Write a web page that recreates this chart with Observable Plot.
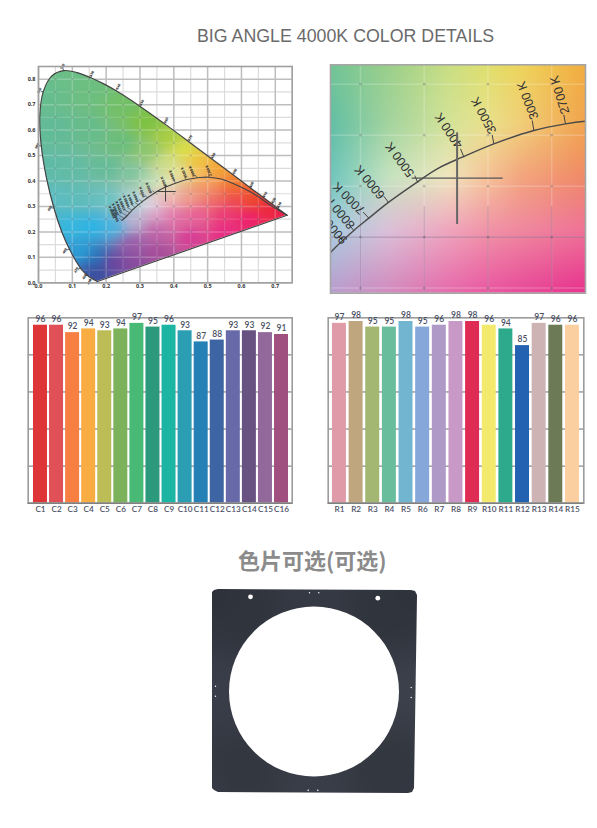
<!DOCTYPE html>
<html>
<head>
<meta charset="utf-8">
<script src="https://cdn.jsdelivr.net/npm/d3@7"></script>
<script src="https://cdn.jsdelivr.net/npm/@observablehq/plot@0.6"></script>
<style>
html,body{margin:0;padding:0;background:#fff}
#page{position:relative;width:597px;height:828px;overflow:hidden}
#page svg{position:absolute;background:transparent;overflow:visible}
.t{position:absolute;white-space:nowrap}
</style>
</head>
<body>
<div id="page">
<div class="t" style="left:197px;top:26px;font:17.8px/20px 'Liberation Sans',sans-serif;color:#6a6a6a">BIG ANGLE 4000K COLOR DETAILS</div>
<div class="t" style="left:238px;top:544px;font:bold 22px/30px 'Noto Sans CJK SC',sans-serif;color:#8b8b8b">色片可选(可选)</div>
</div>
<script>
// ---------- Chromaticity diagram data ----------
const locusX=[.1741,.1566,.1440,.1241,.0913,.0687,.0454,.0235,.0082,.0039,.0139,.0389,.0743,.1142,.1547,.1929,.2296,.3016,.3731,.4441,.5125,.5752,.6270,.6658,.6915,.7079,.7190,.7347];
const locusY=[.0050,.0177,.0297,.0578,.1327,.2007,.2950,.4127,.5384,.6548,.7502,.8120,.8338,.8262,.8059,.7816,.7543,.6923,.6245,.5547,.4866,.4242,.3725,.3340,.3083,.2920,.2809,.2653];
const wavelengths=[450,460,470,480,490,500,510,520,530,540,550,560,570,580,590,600,610,620,630];
const waveX1=[.1566,.1440,.1241,.0913,.0454,.0082,.0139,.0743,.1547,.2296,.3016,.3731,.4441,.5125,.5752,.6270,.6658,.6915,.7079];
const waveY1=[.0177,.0297,.0578,.1327,.2950,.5384,.7502,.8338,.8059,.7543,.6923,.6245,.5547,.4866,.4242,.3725,.3340,.3083,.2920];
const waveX2=[.149,.134,.109,.0745,.0305,-.007,.000,.070,.1586,.2375,.3065,.3785,.449,.518,.582,.631,.671,.696,.713];
const waveY2=[.000,.022,.048,.123,.291,.537,.757,.854,.825,.775,.712,.642,.572,.503,.441,.389,.350,.327,.310];

const planckX=[.247,.262,.2765,.2948,.3066,.3222,.3445,.3602,.3798,.4046,.436,.4608,.4765,.503,.54,.577,.636,.68,.7347];
const planckY=[.245,.2635,.285,.3065,.3186,.3343,.354,.367,.3784,.3915,.4046,.4111,.4137,.415,.408,.389,.35,.31,.2653];

const crossH={x1:.3508,x2:.407,y:.3587}, crossV={x:.3756,y1:.3175,y2:.382};
const crossH2={x1:.3406,x2:.4119,y:.3578}, crossV2={x:.3758,y1:.3124,y2:.4023};

// colour anchors of the full diagram
const gamutX=[.03,.08,.15,.25,.32,.38,.43,.47,.53,.58,.63,.68,.72,.05,.15,.25,.32,.38,.42,.48,.52,.03,.10,.20,.28,.33,.37,.04,.12,.20,.28,.33,.10,.16,.22,.28,.13,.17,.17,.22,.28,.35,.28,.35,.42,.45,.55,.62,.37,.40,.45,.52,.58,.40,.47,.55,.35,.50,.57];
const gamutY=[.75,.80,.75,.70,.63,.57,.52,.48,.44,.39,.33,.29,.27,.60,.60,.55,.52,.47,.43,.43,.415,.45,.45,.45,.43,.40,.39,.33,.33,.33,.32,.31,.22,.22,.22,.24,.12,.10,.04,.08,.08,.12,.15,.20,.25,.18,.20,.25,.33,.33,.33,.33,.33,.27,.27,.27,.27,.38,.37];
const gamutC=["#66bd8f","#6bbf87","#6cbf80","#72c068","#7dc242","#a8cf44","#dce04a","#efc63c","#f3a62f","#f37f2a","#ee4a2c","#ed2a3c","#ec1f4f","#62bc98","#66bc8c","#69bd7c","#8cc66e","#cfe08a","#e8e39a","#f6c060","#f4a050","#5fbca8","#62bca5","#64bc98","#7fc4a0","#b8dcb5","#e3e9b8","#5cbdc0","#5fbdba","#6ac3c2","#a6dadb","#dcd8e4","#35b8e0","#2bb5e6","#48b4e0","#b9b3d3","#2a9ed8","#2a72b8","#3b4ea0","#6c459d","#8a4a9e","#a84c9a","#9a5ca8","#c163a8","#e06aa0","#d83b95","#e92a85","#ed1f6e","#eec0c4","#f0b4a8","#f09a88","#ee6f68","#ee4a50","#e47db0","#ea5f95","#ec3c78","#dca0c8","#f49a6a","#f26a3c"];

// colour grid of the zoomed diagram
const zoomX=[.2765,.321,.368,.399,.4255,.4752];
const zoomY=[.469,.41,.359,.308,.249];
const zoomC=[
 "#72c596","#9acf8b","#c8de84","#dfe06e","#eed55c","#f2ae40",
 "#62bfa6","#a3d4a0","#d4e39a","#eae18e","#f1cf7a","#f2a550",
 "#6fc6bd","#c5e3c0","#f0e7c0","#f6c49a","#f3a67e","#f08a68",
 "#a8cfe0","#dcc2da","#efa8bf","#f195a9","#f08aa0","#ef7498",
 "#b9a0cf","#d28ec0","#e66fad","#ea5ca2","#e84f9a","#e8368f"];

// colour-temperature ticks
const tempLabels=["2700 K","3000 K","3500 K","4000 K","5000 K","6000 K","7000 K","8000 K","9000 K"];
const tempX1=[.4608,.436,.4046,.3811,.345,.3222,.3066,.2948,.2864];
const tempY1=[.4111,.4046,.3915,.3784,.3532,.3336,.3186,.3065,.296];
const tempX2=[.4595,.4347,.4033,.3785,.3426,.3183,.3021,.2909,.2823];
const tempY2=[.42,.4144,.4003,.3866,.3604,.3402,.3245,.3124,.3016];
const tempTx=[.4564,.4313,.3968,.3693,.3309,.3073,.2909,.2838,.2778];
const tempTy=[.4396,.434,.4193,.4046,.3761,.3539,.3382,.3245,.3097];
const tempRot=[-107,-111,-118,-124,-126,-130,-135,-130,-130];

// tiny temperature labels on the full diagram
const miniLabels=["2700 K","3000 K","3500 K","4000 K","5000 K","6000 K","7000 K","8000 K","9000 K","10000 K","12000 K","15000 K","20000 K","30000 K","50000 K"];
const miniTx=[.503,.454,.430,.395,.3704,.326,.3064,.2866,.272,.26,.2472,.2375,.2275,.2178,.2275];
const miniTy=[.441,.438,.4327,.4217,.3956,.373,.3563,.3391,.3275,.3197,.308,.2972,.2881,.2778,.2645];
const miniX1=[.503,.47,.436,.4046,.3798,.345,.3222,.3066,.2948,.2864,.2765,.2685,.262,.255,.247];
const miniY1=[.415,.412,.4046,.3915,.3784,.3532,.3336,.3186,.3065,.296,.285,.276,.2635,.2535,.245];

// ---------- Bar data ----------
const cNames=["C1","C2","C3","C4","C5","C6","C7","C8","C9","C10","C11","C12","C13","C14","C15","C16"];
const cValues=[96,96,92,94,93,94,97,95,96,93,87,88,93,93,92,91];
const cColors=["#de3538","#df5057","#f77f42","#f9ac42","#bdbd57","#7cb25c","#49ba75","#2d997c","#1cb5a4","#2b9eb3","#2480b5","#3e65a3","#6869a8","#675282","#93689b","#a0507f"];
const rNames=["R1","R2","R3","R4","R5","R6","R7","R8","R9","R10","R11","R12","R13","R14","R15"];
const rValues=[97,98,95,95,98,95,96,98,98,96,94,85,97,96,96];
const rColors=["#df9ba8","#bfa67f","#a3b672","#69bd9d","#72b5d0","#86a7da","#af99c6","#c898c6","#de2c55","#f3e96c","#2da98b","#2262b0","#cdb3b3","#6c7b55","#fccfa0"];

// ---------- Filter plate (photo) data, in picture units ----------
const plateX=[1,3,7,200,204,206,203,201,197,7,3,1];
const plateY=[12,10,9,10,11,15,208,212,213,212,210,208];
const plateColX=[0,103,206,0,103,206,0,103,206,30,176,30,176];
const plateColY=[10,10,10,110,110,110,213,213,213,30,30,190,190];
const plateCol=["#2e323b","#363a44","#2f333c","#3a3e4a","#454854","#3d414c","#363a44","#3a3e48","#343842","#30343d","#30343d","#33373f","#33373f"];
const holeCx=[102.5],holeCy=[111],holeR=[85];
const pinX=[39,166.3,98,107.3,4,4,199.7,199.7,96.7,106.3];
const pinY=[16.3,17.7,12.3,12.3,105.7,115.7,107,117,209.7,209.7];
const pinR=[2.4,2.4,.7,.7,.7,.7,.7,.7,.8,.8];

// ---------- helpers ----------
const page=document.getElementById("page");
function place(svg,left,top){svg.style.left=left+"px";svg.style.top=top+"px";page.appendChild(svg);}
function idw(xs,ys,cs,power){
  const rgb=cs.map(c=>d3.rgb(c));
  return (x,y)=>{
    let r=0,g=0,b=0,w=0;
    for(let i=0;i<xs.length;i++){
      const d=(x-xs[i])**2+(y-ys[i])**2+1e-7, k=Math.pow(d,-power/2);
      r+=k*rgb[i].r;g+=k*rgb[i].g;b+=k*rgb[i].b;w+=k;
    }
    return `rgb(${r/w|0},${g/w|0},${b/w|0})`;
  };
}
function bilinear(xs,ys,cs){
  const rgb=cs.map(c=>d3.rgb(c)), n=xs.length;
  const locate=(a,v)=>{ // a may be descending
    const sgn=a[1]>a[0]?1:-1;
    let i=0; while(i<a.length-2 && sgn*v>sgn*a[i+1]) i++;
    const t=Math.max(0,Math.min(1,(v-a[i])/(a[i+1]-a[i])));
    return [i,t];
  };
  return (x,y)=>{
    const [i,t]=locate(xs,x),[j,u]=locate(ys,y);
    const p=(ii,jj)=>rgb[jj*n+ii];
    const mix=k=>(1-u)*((1-t)*p(i,j)[k]+t*p(i+1,j)[k])+u*((1-t)*p(i,j+1)[k]+t*p(i+1,j+1)[k]);
    return `rgb(${mix("r")|0},${mix("g")|0},${mix("b")|0})`;
  };
}
let clipId=0;
// render transform: clip a mark to a polygon given in data coordinates (optional soft blur inside)
function clipTo(xs,ys,blur){
  return function(index,scales,values,dimensions,context,next){
    const g=next(index,scales,values,dimensions,context);
    const id="clip"+(++clipId);
    const NS="http://www.w3.org/2000/svg";
    const wrap=document.createElementNS(NS,"g");
    const cp=document.createElementNS(NS,"clipPath");cp.setAttribute("id",id);
    const p=document.createElementNS(NS,"path");
    p.setAttribute("d","M"+xs.map((v,i)=>scales.x(v)+","+scales.y(ys[i])).join("L")+"Z");
    cp.appendChild(p);wrap.appendChild(cp);
    wrap.setAttribute("clip-path",`url(#${id})`);
    if(blur) g.style.filter=`blur(${blur}px)`;
    wrap.appendChild(g);return wrap;
  };
}
const seq=(a,b,s)=>d3.range(Math.round((b-a)/s)+1).map(i=>+(a+i*s).toFixed(3));
const ax="#333";

// ---------- full diagram ----------
{
  const major=seq(0,.7,.1), minor=seq(.05,.75,.1), majorY=seq(0,.8,.1), minorY=seq(.05,.85,.1);
  const nodesX=seq(.05,.7,.05), nodesY=seq(.05,.8,.05);
  const nodes=nodesX.flatMap(x=>nodesY.map(y=>({x,y})));
  const inside=clipTo(locusX,locusY);
  const sel=miniLabels.map((_,i)=>i);
  const waves=wavelengths.map((w,i)=>i);
  const lerp=(a,b,t)=>a+(b-a)*t;
  const spectral=locusX.map((x,i)=>({x,y:locusY[i]}));
  const purple=[spectral[0],spectral[spectral.length-1]];
  const svg=Plot.plot({
    width:300,height:240,marginLeft:38,marginRight:8.3,marginTop:11,marginBottom:12.7,
    x:{domain:[0,.75]},y:{domain:[0,.85]},color:{type:"identity"},
    style:{background:"transparent",overflow:"visible"},
    marks:[
      Plot.ruleX(minor,{stroke:"#dcdcdc",strokeWidth:1.2}),
      Plot.ruleY(minorY,{stroke:"#dcdcdc",strokeWidth:1.2}),
      Plot.ruleX(major,{stroke:"#bdbdbd",strokeWidth:1.5}),
      Plot.ruleY(majorY,{stroke:"#bdbdbd",strokeWidth:1.5}),
      Plot.raster({x1:-.05,x2:.8,y1:-.05,y2:.9,fill:idw(gamutX,gamutY,gamutC,3.2),render:clipTo(locusX,locusY,5)}),
      Plot.ruleX(minor,{stroke:"#fff",strokeOpacity:.14,strokeWidth:1.2,render:inside}),
      Plot.ruleY(minorY,{stroke:"#fff",strokeOpacity:.14,strokeWidth:1.2,render:inside}),
      Plot.ruleX(major,{stroke:"#fff",strokeOpacity:.22,strokeWidth:1.5,render:inside}),
      Plot.ruleY(majorY,{stroke:"#fff",strokeOpacity:.22,strokeWidth:1.5,render:inside}),
      Plot.dot(nodes,{x:"x",y:"y",r:1.1,fill:"#123",fillOpacity:.22,render:inside}),
      Plot.line(spectral,{x:"x",y:"y",stroke:"#444",strokeWidth:1.2,curve:"catmull-rom"}),
      Plot.line(purple,{x:"x",y:"y",stroke:"#444",strokeWidth:1.2}),
      Plot.line(planckX.map((x,i)=>({x,y:planckY[i]})),{x:"x",y:"y",stroke:"#444",strokeWidth:1.1,curve:"catmull-rom"}),
      Plot.link(waves,{x1:i=>waveX1[i],y1:i=>waveY1[i],x2:i=>lerp(waveX1[i],waveX2[i],.45),y2:i=>lerp(waveY1[i],waveY2[i],.45),stroke:"#444",strokeWidth:.8}),
      Plot.link(sel,{x1:i=>miniX1[i],y1:i=>miniY1[i],x2:i=>lerp(miniX1[i],miniTx[i],.45),y2:i=>lerp(miniY1[i],miniTy[i],.45),stroke:"#444",strokeWidth:.6}),
      Plot.text(waves,{x:i=>lerp(waveX1[i],waveX2[i],.8),y:i=>lerp(waveY1[i],waveY2[i],.8),text:i=>String(wavelengths[i]),fontSize:3.4,fontWeight:"bold",fill:"#222",rotate:-60}),
      Plot.text(sel,{x:i=>miniTx[i],y:i=>miniTy[i],text:i=>miniLabels[i],fontSize:3.6,fontWeight:"bold",fill:"#222",rotate:-112}),
      Plot.ruleY([crossH.y],{x1:crossH.x1,x2:crossH.x2,stroke:"#444",strokeWidth:1}),
      Plot.ruleX([crossV.x],{y1:crossV.y1,y2:crossV.y2,stroke:"#444",strokeWidth:1}),
      Plot.frame({stroke:"#a0a0a0",strokeWidth:1.6}),
      Plot.axisX(seq(0,.7,.1),{tickSize:0,tickPadding:1,fontSize:5.5,fontWeight:"bold",fill:ax,label:null,tickFormat:".1f"}),
      Plot.axisY(seq(0,.8,.1),{tickSize:0,tickPadding:3,fontSize:5.5,fontWeight:"bold",fill:ax,label:null,tickFormat:".1f"})
    ]
  });
  place(svg,0,55);
}

// ---------- zoomed diagram ----------
{
  const gx=[.30,.35,.40,.45], gy=[.25,.30,.35,.40,.45];
  const nodes=gx.flatMap(x=>gy.map(y=>({x,y})));
  const fx=[.2765,.4765,.4765,.2765], fy=[.245,.245,.469,.469];
  const svg=Plot.plot({
    width:270,height:240,marginLeft:10,marginRight:5,marginTop:9.3,marginBottom:2.3,
    x:{domain:[.2765,.4765]},y:{domain:[.245,.469]},color:{type:"identity"},axis:null,
    style:{background:"transparent",overflow:"visible"},
    marks:[
      Plot.raster({x1:.25,x2:.5,y1:.22,y2:.49,fill:bilinear(zoomX,zoomY,zoomC),render:clipTo(fx,fy,3)}),
      Plot.ruleX(gx,{stroke:"#fff",strokeOpacity:.2,strokeWidth:1.5}),
      Plot.ruleY(gy,{stroke:"#fff",strokeOpacity:.2,strokeWidth:1.5}),
      Plot.ruleX(gx,{y1:.245,y2:.33,stroke:"#503060",strokeOpacity:.25,strokeWidth:1}),
      Plot.ruleY([.30],{stroke:"#503060",strokeOpacity:.4,strokeWidth:1}),
      Plot.dot(nodes,{x:"x",y:"y",r:1.4,fill:"#333",fillOpacity:.25}),
      Plot.line(planckX.map((x,i)=>({x,y:planckY[i]})),{x:"x",y:"y",stroke:"#4a4a4a",strokeWidth:1.4,curve:"catmull-rom",clip:true}),
      Plot.link(tempLabels.map((t,i)=>i),{x1:i=>tempX1[i],y1:i=>tempY1[i],x2:i=>tempX2[i],y2:i=>tempY2[i],stroke:"#444",strokeWidth:1}),
      Plot.text(tempLabels.map((t,i)=>i),{x:i=>tempTx[i],y:i=>tempTy[i],text:i=>tempLabels[i],rotate:i=>tempRot[i],fontSize:12.5,fill:"#333",fontFamily:"'Liberation Sans',sans-serif",clip:true}),
      Plot.ruleY([crossH2.y],{x1:crossH2.x1,x2:crossH2.x2,stroke:"#555",strokeWidth:1.2}),
      Plot.ruleX([crossV2.x],{y1:crossV2.y1,y2:crossV2.y2,stroke:"#666",strokeWidth:2}),
      Plot.frame({stroke:"#a6a6a6",strokeWidth:1.6})
    ]
  });
  place(svg,320,55);
}

// ---------- bars ----------
function bars(names,values,colors,opts){
  const data=names.map((n,i)=>({n,v:values[i],c:colors[i]}));
  const svg=Plot.plot({
    width:opts.w,height:opts.h,marginLeft:opts.ml,marginRight:opts.mr,marginTop:opts.mt,marginBottom:opts.mb,
    x:{domain:names,range:opts.range,padding:opts.pad,round:false,label:null,axis:null},
    y:{domain:[0,100],label:null,axis:null},color:{type:"identity"},
    style:{background:"transparent",overflow:"visible"},
    marks:[
      Plot.ruleY([20,40,60,80],{stroke:"#6e6e6e",strokeWidth:1}),
      Plot.barY(data,{x:"n",y:"v",fill:"c"}),
      Plot.frame({stroke:"#9c9c9c",strokeWidth:1.6}),
      Plot.ruleY([0],{stroke:"#808080",strokeWidth:1.6}),
      Plot.text(data,{x:"n",y:"v",text:d=>String(d.v),dy:-6,fontSize:8.5,fontWeight:600,fill:"#4a5064",fontFamily:"Lato,sans-serif"}),
      Plot.axisX(names,{tickSize:0,tickPadding:3,fontSize:8.2,fontWeight:600,fill:"#4a5064",label:null,fontFamily:"Lato,sans-serif"})
    ]
  });
  return svg;
}
place(bars(cNames,cValues,cColors,{w:300,h:215,ml:27.7,mr:8.3,mt:12.3,mb:17.3,range:[30.9,290.1],pad:.129}),0,305);
place(bars(rNames,rValues,rColors,{w:270,h:215,ml:7.7,mr:6.7,mt:12.3,mb:17.3,range:[9.3,261.6],pad:.16}),320,305);

// ---------- filter plate ----------
{
  const pins=pinX.map((x,i)=>({x,y:pinY[i],r:pinR[i]}));
  const svg=Plot.plot({
    width:230,height:225,marginLeft:0,marginRight:0,marginTop:0,marginBottom:0,
    x:{domain:[-10,220],axis:null},y:{domain:[225,0],axis:null},
    r:{type:"identity"},color:{type:"identity"},
    style:{background:"transparent",overflow:"visible"},
    marks:[
      Plot.raster({x1:-10,x2:220,y1:0,y2:225,fill:idw(plateColX,plateColY,plateCol,2.5),render:clipTo(plateX,plateY)}),
      Plot.dot(holeCx.map((x,i)=>({x,y:holeCy[i],r:holeR[i]})),{x:"x",y:"y",r:"r",fill:"#fff"}),
      Plot.dot(pins,{x:"x",y:"y",r:"r",fill:"#fff"})
    ]
  });
  place(svg,200.7,580);
}
</script>
</body>
</html>
